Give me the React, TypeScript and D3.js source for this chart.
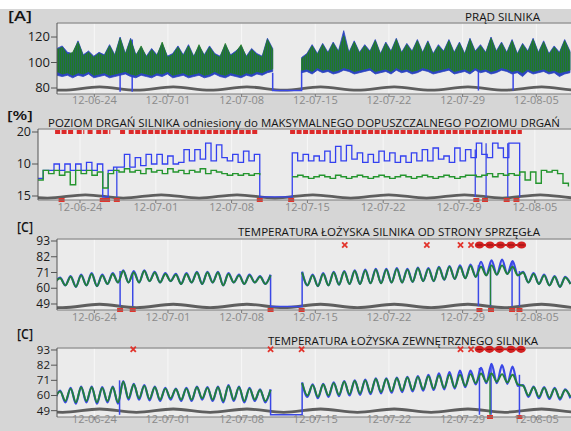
import React from "react";
import * as d3 from "d3";

// ---------- time helpers ----------
const BASE = Date.UTC(2012, 5, 24);
const DAY = 864e5;
const toDate = (d: number) => new Date(BASE + d * DAY);

// ---------- shared axis data ----------
const tickDays = [0, 7, 14, 21, 28, 35, 42]; // 12-06-24 ... 12-08-05
const waveDays = [-6.5, -3, 0.5, 4, 7.5, 11, 14.5, 18, 21.5, 25, 28.5, 32, 35.5, 39, 42.5, 46, 49.5];
const waveLevel = [1, -1, 1, -1, 1, -1, 1, -1, 1, -1, 1, -1, 1, -1, 1, -1, 1];

// ---------- panel 1: PRĄD SILNIKA [A] ----------
const curStep = 0.5;
const cur1Start = -3.55;
const curGreenHi1 = [110,112,106,108,116,105,108,104,107,105, 113,105,119,106,118,105,113,104,110,105, 116,104,106,112,105,113,104,114,105,112, 106,104,115,105,108,114,104,110,106,104, 118,110];
const curGreenLo1 = [93,91,92,90,92,91,93,90,91,92, 90,91,92,93,91,90,92,91,90,92, 91,93,90,91,92,90,91,92,90,91, 93,91,90,92,91,90,92,91,93,92, 94,95];
const curBlueHi1 = [111,113,108,107,117,106,109,105,108,106, 114,106,120,107,119,106,112,105,111,106, 115,105,107,113,106,114,105,113,106,113, 107,105,114,106,109,113,105,111,107,105, 119,111];
const curBlueLo1 = [90,89,90,88,90,89,91,88,89,90, 88,89,90,91,89,88,90,89,88,90, 89,91,88,89,90,88,89,90,88,89, 91,89,88,90,89,88,90,89,91,90, 92,93];
const cur2Start = 19.7;
const curGreenHi2 = [103,106,113,106,114,107,115,108,121,107, 116,107,113,108,117,106,115,108,118,107, 114,108,117,107,116,106,113,108,117,107, 115,106,118,108,113,107,119,108,115,107, 117,106,114,108,118,107,116,106,112,107, 117,108];
const curGreenLo2 = [94,95,93,96,94,95,93,94,96,95, 93,94,95,96,93,94,95,93,96,94, 95,93,94,96,95,93,94,95,96,93, 94,95,93,96,94,95,93,94,96,95, 93,94,92,95,93,94,95,93,94,92, 93,94];
const curBlueHi2 = [104,107,114,107,115,108,116,109,125,108, 117,108,114,109,118,107,116,109,119,108, 115,109,118,108,117,107,114,109,118,108, 116,107,119,109,114,108,120,109,116,108, 118,107,115,109,119,108,117,107,113,108, 118,109];
const curBlueLo2 = [92,93,91,94,92,93,91,92,94,93, 91,92,93,94,91,92,93,91,94,92, 93,91,92,94,93,91,92,93,94,91, 92,93,91,94,92,93,91,92,94,93, 91,92,89,93,91,92,93,91,92,89, 91,92];
const curBlueGap = [[16.95, 92], [16.95, 78], [19.7, 78], [19.7, 94]];
const curBlueDrops = [[2.45, 119, 77], [3.6, 118, 77], [36.5, 104, 78], [39.8, 104, 78]];

// ---------- panel 2: POZIOM DRGAŃ [%] ----------
const vibStep = 0.5;
const vibBlueStart = -3.9;
const vibBlue = [5.5,8,8,10,8,10,8,10,8,10.5, 8,10,-0.3,8,9,9,13,9,12,9.5, 13,10,13,10,12.5,10,10.5,14.5,11,14.5, 11.5,16.5,11,16,12,11,13,10.5,14,11, 13,-0.3,
  -0.3,-0.3,-0.3,-0.3,-0.3,
  13.5,11,13,11,12.5,11,14,10.5,15.5,11, 15.8,11.5,13.5,10.5,13,10.5,14,11,13.5,10.5, 12.5,10.5,13.5,11,14.5,11,15,11.5,12.5,10.5, 15,11,14.5,12,16.5,13,12,16.5,15,12, 16.5,16.5,-0.3];
const vibGreen1Start = -3.9;
const vibGreen1 = [5,8,7,8,6.5,7.5,3.5,8,7,8, 6.5,7.5,2.5,7,8,7.5,8.5,7.5,8,7, 8.5,7.5,8,7,8.5,7.5,8,7,8,7.5, 8.5,7,8,7.5,7,6.5,7,6.5,7,6.5, 7,6.5];
const vibGreen2Start = 19.6;
const vibGreen2 = [6,6.5,6,5.5,6,6.5,6,5.5,6.5,6, 5.5,6,6.5,6,5.5,6,6.5,6,5.5,6, 6.5,6,5.5,6,6.5,6,5.5,6,6.5,6, 5.5,6,6.5,6.5,6,6.5,7,6,7,6.5, 7,6.5,7.5,5,7.5,4,8,7.5,8,7, 4,3];
const vibBlueDrops = [[3.4, 9, -0.3], [36.5, 14.5, -0.3], [37.5, 16.5, -0.3], [39.5, 16.5, -0.3]];
const vibAlarmLevel = 20;
const vibAlarmTop = [[-2.3, -0.6], [-0.3, 0.4], [0.7, 1.2], [1.5, 2.8], [3.7, 4.2], [4.5, 16.5], [19.4, 40.8]];
const vibAlarmBottom = [-1.7, 2.1, 2.5, 3.4, 16.6, 19.5, 36.6, 37.4, 39.4, 40.3];

// ---------- panel 3: TEMPERATURA ŁOŻYSKA OD STRONY SPRZĘGŁA [C] ----------
const tStep = 0.5;
const t1Start = -3.75;
const t2Start = 19.75;
const cplGreen1 = [64,67,62,68,61,69,62,70,61.5,69, 63,70,64,72,64,71,64,72,65,71, 64,70,65,69.5,63,70,64,71,63,71, 64,71,62,70,64,69,63,69,64,68, 63,69];
const cplBlue1 = [64,67.5,62,68.5,61,69.5,62,70.5,61.5,69.5, 63,70.5,64,72.5,64,72,64,72.5,65,71.5, 64,70.5,65,70,63,70.5,64,71.5,63,71.5, 64,71.5,62,70.5,64,69.5,63,69.5,64,68.5, 63,69.5];
const cplGreen2 = [71,62,69,61.5,70,62,71,62.5,71.5,63, 72,63,72.5,63.5,73,63.5,73,64,73.5,64, 73,64.5,74,65,73.5,65,74.5,66,75,66.5, 75,67,75.5,68,75,69,76,69.5,76,70, 75,69,71,64,70,63,69,62,68,61, 67.5,63];
const cplBlue2 = [71.5,62,69.5,61.5,70.5,62,71.5,62.5,72,63, 72.5,63,73,63.5,73.5,63.5,73.5,64,74,64, 73.5,64.5,74.5,65,74,65,75,66,75.5,66.5, 76,67,76.5,68,78.5,69,79.5,69.5,80,70, 79,69,71.5,64,70.5,63,69.5,62,68.5,61, 68,63];
const cplBlueGap = [[16.75, 69], [16.75, 47.3], [19.75, 47.3], [19.75, 71.5]];
const cplBlueDrops = [[2.45, 72, 47.5], [3.65, 71, 47.5], [36.5, 76, 47.5], [37.65, 78, 47.5], [39.7, 79, 47.5], [40.4, 72, 47.5]];
const cplGreenDrops = [[37.65, 75, 48]];
const cplAlarmLevel = 90.2;
const cplAlarmSingles = [23.8, 31.6, 34.8, 35.8];
const cplAlarmBlobs = [36.6, 37.6, 38.6, 39.6, 40.6];
const cplAlarmBottom = [2.45, 3.65, 16.75, 19.7, 36.6, 37.7, 39.7, 40.4];

// ---------- panel 4: TEMPERATURA ŁOŻYSKA ZEWNĘTRZNEGO [C] ----------
const extGreen1 = [58,63,56,65,55,66,56,66,55,65.5, 56,66,55,70,58,68,58,67,57.5,66, 57,65,58,64.5,57,65,57,66,58,65.5, 57,66,56,67,57,66,56,65,57,64, 56,64];
const extBlue1 = [57,63.5,55,65.5,54,66.5,55,66.5,54,66, 55,66.5,54,70.5,57,68.5,57,67.5,56.5,66.5, 56,65.5,57,65,56,65.5,56,66.5,57,66, 56,66.5,55,67.5,56,66.5,55,65.5,56,64.5, 55,64.5];
const extGreen2 = [69,60,67.5,59,68,60,69,60.5,70,61, 70.5,61.5,71,62,72,62.5,72,63,72.5,63.5, 73,64,73.5,64.5,74,65,74.5,65.5,75,66, 75,67,75.5,69,76,70,76,70,75.5,69.5, 75,68,67,60,66,59,65.5,58.5,65,58, 64,59];
const extBlue2 = [69.5,59,68,58,68.5,59,69.5,59.5,70.5,60, 71,60.5,71.5,61,72.5,61.5,72.5,62,73,62.5, 73.5,63,74,63.5,75,64,76,64.5,77,65, 78,66,78,68,80,69,83,69,82,68.5, 81,67,67.5,59,66.5,58,66,57.5,65.5,57, 64.5,58];
const extBlueGap = [[16.75, 64], [16.75, 46], [19.75, 46], [19.75, 69.5]];
const extBlueDrops = [[2.4, 71, 46], [36.6, 80, 46], [37.7, 83, 46], [40.4, 75, 46]];
const extGreenDrops = [[37.6, 76, 46]];
const extAlarmLevel = 93.5;
const extAlarmSingles = [3.7, 16.75, 19.7, 34.8, 35.8];
const extAlarmBlobs = [36.6, 37.55, 38.5, 39.6, 40.55];
const extAlarmBottom = [37.6, 40.4];

// ---------- helpers ----------
type P = { t: Date; v: number };
type B = { t: Date; hi: number; lo: number };
const seq = (start: number, step: number, vals: number[]): P[] =>
  vals.map((v, i) => ({ t: toDate(start + i * step), v }));
const bandSeq = (start: number, step: number, hi: number[], lo: number[]): B[] =>
  hi.map((h, i) => ({ t: toDate(start + i * step), hi: h, lo: lo[Math.min(i, lo.length - 1)] }));
const pts = (arr: number[][]): P[] => arr.map(([d, v]) => ({ t: toDate(d), v }));

const BLUE = "#3a48e6";
const RED = "#e2342c";
const TGREEN = "#22803a";
const fmt = d3.utcFormat("%y-%m-%d");
const FONT = "'Open Sans', 'DejaVu Sans', sans-serif";

type Layout = { id: string; left: number; right: number; top: number; bottom: number; d0: number; d1: number; yDom: number[];
  yTicks: number[]; yLabels: string[]; yFont: number; xLabelY: number; waveBase: number; waveAmp: number };

const L1: Layout = { id: "c1", left: 57, right: 571, top: 23, bottom: 94, d0: -3.546, d1: 45.3, yDom: [75.3, 131],
  yTicks: [80, 100, 120], yLabels: ["80", "100", "120"], yFont: 13, xLabelY: 104, waveBase: 79.6, waveAmp: 1.3 };
const L2: Layout = { id: "c2", left: 38, right: 571, top: 129, bottom: 200, d0: -3.878, d1: 45.34, yDom: [-1.25, 20.94],
  yTicks: [0, 10, 20], yLabels: ["15", "10", "20"], yFont: 12.5, xLabelY: 211, waveBase: -0.15, waveAmp: 0.5 };
const L3: Layout = { id: "c3", left: 57, right: 571, top: 239, bottom: 310, d0: -3.546, d1: 45.3, yDom: [44.8, 94.4],
  yTicks: [49, 60, 71, 82, 93], yLabels: ["49", "60", "71", "82", "93"], yFont: 12, xLabelY: 321, waveBase: 47.6, waveAmp: 1.2 };
const L4: Layout = { id: "c4", left: 57, right: 571, top: 348, bottom: 417, d0: -3.546, d1: 45.3, yDom: [44.4, 94.45],
  yTicks: [49, 60, 71, 82, 93], yLabels: ["49", "60", "71", "82", "93"], yFont: 11.5, xLabelY: 423, waveBase: 49, waveAmp: 1.2 };

function scales(L: Layout) {
  const x = d3.scaleUtc().domain([toDate(L.d0), toDate(L.d1)]).range([L.left, L.right]);
  const y = d3.scaleLinear().domain(L.yDom).range([L.bottom, L.top]);
  return { x, y };
}

function Frame({ L, children }: { L: Layout; children: React.ReactNode }) {
  const { x, y } = scales(L);
  const wave = d3.line<number>()
    .x((_, i) => x(toDate(waveDays[i])))
    .y((lv) => y(L.waveBase + lv * L.waveAmp))
    .curve(d3.curveMonotoneX)(waveLevel) || "";
  return (
    <g>
      <defs>
        <clipPath id={L.id}>
          <rect x={L.left} y={L.top - 6} width={L.right - L.left} height={L.bottom - L.top + 9} />
        </clipPath>
      </defs>
      <rect x={L.left} y={L.top} width={L.right - L.left} height={L.bottom - L.top} fill="#ebebeb" />
      {tickDays.map((d) => (
        <line key={d} x1={x(toDate(d))} x2={x(toDate(d))} y1={L.top} y2={L.bottom} stroke="#f7f7f7" strokeWidth={1} />
      ))}
      <line x1={L.left} x2={L.right} y1={L.top} y2={L.top} stroke="#9a9a9a" strokeWidth={1.5} />
      <g clipPath={`url(#${L.id})`}>
        <path d={wave} fill="none" stroke="#5e5e5e" strokeWidth={2.8} />
        {children}
      </g>
      <line x1={L.left} x2={L.right} y1={L.bottom} y2={L.bottom} stroke="#7a7a7a" strokeWidth={1} />
      <line x1={L.left} x2={L.left} y1={L.top} y2={L.bottom} stroke="#555" strokeWidth={1} />
      {L.yTicks.map((t, i) => (
        <g key={t}>
          <line x1={L.left - 6} x2={L.left} y1={y(t)} y2={y(t)} stroke="#555" />
          <text x={L.left - 7} y={y(t) + L.yFont * 0.34} textAnchor="end" fontSize={L.yFont} fill="#1a1a1a" fontFamily={FONT}>{L.yLabels[i]}</text>
        </g>
      ))}
      {tickDays.map((d) => (
        <g key={"x" + d}>
          <line x1={x(toDate(d))} x2={x(toDate(d))} y1={L.bottom} y2={L.bottom + 3} stroke="#777" />
          <text x={x(toDate(d))} y={L.xLabelY} textAnchor="middle" fontSize={11} fill="#8a8a8a" fontFamily={FONT}>{fmt(toDate(d))}</text>
        </g>
      ))}
    </g>
  );
}

function Cross({ cx, cy, s = 2.6 }: { cx: number; cy: number; s?: number }) {
  return (
    <g stroke={RED} strokeWidth={1.8}>
      <line x1={cx - s} x2={cx + s} y1={cy - s} y2={cy + s} />
      <line x1={cx - s} x2={cx + s} y1={cy + s} y2={cy - s} />
    </g>
  );
}

function Panel1() {
  const { x, y } = scales(L1);
  const area = d3.area<B>().x((p) => x(p.t)).y0((p) => y(p.lo)).y1((p) => y(p.hi));
  const line = d3.line<P>().x((p) => x(p.t)).y((p) => y(p.v));
  const g1 = bandSeq(cur1Start, curStep, curGreenHi1, curGreenLo1);
  const g2 = bandSeq(cur2Start, curStep, curGreenHi2, curGreenLo2);
  const b1 = bandSeq(cur1Start, curStep, curBlueHi1, curBlueLo1);
  const b2 = bandSeq(cur2Start, curStep, curBlueHi2, curBlueLo2);
  return (
    <Frame L={L1}>
      <defs>
        <pattern id="hatchG" width={2} height={4} patternUnits="userSpaceOnUse">
          <rect x={0} y={0} width={1.5} height={4} fill="#1f7a26" />
          <rect x={1.5} y={0} width={0.5} height={4} fill="#2a6a40" />
        </pattern>
      </defs>
      <path d={line(pts(curBlueGap)) || ""} fill="none" stroke={BLUE} strokeWidth={1.5} />
      {curBlueDrops.map(([d, a, b]) => (
        <line key={d} x1={x(toDate(d))} x2={x(toDate(d))} y1={y(a)} y2={y(b)} stroke={BLUE} strokeWidth={1.5} />
      ))}
      {[b1, b2].map((s, i) => (
        <path key={"b" + i} d={area(s) || ""} fill="#2b44c0" stroke="#2b44c0" strokeWidth={0.8} />
      ))}
      {[g1, g2].map((s, i) => (
        <path key={"g" + i} d={area(s) || ""} fill="url(#hatchG)" stroke="#237d26" strokeWidth={0.8} />
      ))}
    </Frame>
  );
}

function Panel2() {
  const { x, y } = scales(L2);
  const step = d3.line<P>().x((p) => x(p.t)).y((p) => y(p.v)).curve(d3.curveStepAfter);
  const blue = seq(vibBlueStart, vibStep, vibBlue);
  const g1 = seq(vibGreen1Start, vibStep, vibGreen1);
  const g2 = seq(vibGreen2Start, vibStep, vibGreen2);
  return (
    <Frame L={L2}>
      {vibBlueDrops.map(([d, a, b]) => (
        <line key={d} x1={x(toDate(d))} x2={x(toDate(d))} y1={y(a)} y2={y(b)} stroke={BLUE} strokeWidth={1.3} />
      ))}
      <path d={step(blue) || ""} fill="none" stroke="#3340f0" strokeWidth={1.3} />
      {[g1, g2].map((s, i) => (
        <path key={i} d={step(s) || ""} fill="none" stroke="#24952e" strokeWidth={1.4} />
      ))}
      {vibAlarmTop.map(([a, b]) => (
        <line key={a} x1={x(toDate(a))} x2={x(toDate(b))} y1={y(vibAlarmLevel)} y2={y(vibAlarmLevel)}
          stroke="#dd2a2a" strokeWidth={4} strokeDasharray="5 1.5" />
      ))}
      {vibAlarmBottom.map((d) => (
        <rect key={d} x={x(toDate(d)) - 3} y={L2.bottom - 2} width={6} height={4} fill={RED} />
      ))}
    </Frame>
  );
}

function TempPanel({ L, green1, blue1, green2, blue2, gap, blueDrops, greenDrops, level, singles, blobs, bottom }: any) {
  const { x, y } = scales(L);
  const line = d3.line<P>().x((p) => x(p.t)).y((p) => y(p.v));
  const curve = d3.line<P>().x((p) => x(p.t)).y((p) => y(p.v)).curve(d3.curveMonotoneX);
  const series = [
    { s: seq(t1Start, tStep, blue1), c: BLUE },
    { s: seq(t2Start, tStep, blue2), c: BLUE },
    { s: seq(t1Start, tStep, green1), c: TGREEN },
    { s: seq(t2Start, tStep, green2), c: TGREEN },
  ];
  const yl = y(level);
  return (
    <Frame L={L}>
      <path d={line(pts(gap)) || ""} fill="none" stroke={BLUE} strokeWidth={1.5} />
      {blueDrops.map(([d, a, b]: number[]) => (
        <line key={d} x1={x(toDate(d))} x2={x(toDate(d))} y1={y(a)} y2={y(b)} stroke={BLUE} strokeWidth={1.5} />
      ))}
      {series.map((o, i) => (
        <path key={i} d={curve(o.s) || ""} fill="none" stroke={o.c} strokeWidth={i < 2 ? 2.2 : 1.9} />
      ))}
      {greenDrops.map(([d, a, b]: number[]) => (
        <line key={"g" + d} x1={x(toDate(d))} x2={x(toDate(d))} y1={y(a)} y2={y(b)} stroke={TGREEN} strokeWidth={1.3} />
      ))}
      {singles.map((d: number) => <Cross key={d} cx={x(toDate(d))} cy={yl} />)}
      <line x1={x(toDate(blobs[0]))} x2={x(toDate(blobs[blobs.length - 1]))} y1={yl} y2={yl} stroke="#c81e1e" strokeWidth={2} />
      {blobs.map((d: number) => (
        <g key={"b" + d}>
          <ellipse cx={x(toDate(d))} cy={yl} rx={4.6} ry={3.6} fill="#d42222" />
          <line x1={x(toDate(d)) - 3} x2={x(toDate(d)) + 3} y1={yl} y2={yl} stroke="#8a1010" strokeWidth={1} />
        </g>
      ))}
      {bottom.map((d: number) => (
        <rect key={"r" + d} x={x(toDate(d)) - 3} y={L.bottom - 2} width={6} height={4} fill={RED} />
      ))}
    </Frame>
  );
}

function Label({ x, y, w, size, text, weight = 400 }: { x: number; y: number; w: number; size: number; text: string; weight?: number }) {
  return (
    <text x={x} y={y} fontSize={size} fontWeight={weight} fill="#141414" fontFamily={FONT}
      textLength={w} lengthAdjust="spacingAndGlyphs">{text}</text>
  );
}

export default function App() {
  return (
    <svg width={571} height={431} viewBox="0 0 571 431"
      style={{ position: "fixed", left: 0, top: 0, display: "block" }}>
      <rect x={0} y={0} width={571} height={431} fill="#ffffff" />
      <rect x={0} y={9} width={571} height={422} fill="#d6d6d6" />
      <Panel1 />
      <Panel2 />
      <TempPanel L={L3} green1={cplGreen1} blue1={cplBlue1} green2={cplGreen2} blue2={cplBlue2} gap={cplBlueGap}
        blueDrops={cplBlueDrops} greenDrops={cplGreenDrops} level={cplAlarmLevel} singles={cplAlarmSingles}
        blobs={cplAlarmBlobs} bottom={cplAlarmBottom} />
      <TempPanel L={L4} green1={extGreen1} blue1={extBlue1} green2={extGreen2} blue2={extBlue2} gap={extBlueGap}
        blueDrops={extBlueDrops} greenDrops={extGreenDrops} level={extAlarmLevel} singles={extAlarmSingles}
        blobs={extAlarmBlobs} bottom={extAlarmBottom} />
      <Label x={8} y={21} w={24} size={14} weight={600} text="[A]" />
      <Label x={465} y={20.5} w={75} size={11.5} text="PRĄD SILNIKA" />
      <Label x={7} y={120} w={26} size={13} weight={600} text="[%]" />
      <Label x={48} y={126.5} w={512} size={11} text="POZIOM DRGAŃ SILNIKA odniesiony do MAKSYMALNEGO DOPUSZCZALNEGO POZIOMU DRGAŃ" />
      <Label x={17} y={231.5} w={16} size={14} weight={600} text="[C]" />
      <Label x={238} y={235.5} w={302} size={11.5} text="TEMPERATURA ŁOŻYSKA SILNIKA OD STRONY SPRZĘGŁA" />
      <Label x={17} y={338.5} w={16} size={14} weight={600} text="[C]" />
      <Label x={268} y={344.5} w={270} size={11.5} text="TEMPERATURA ŁOŻYSKA ZEWNĘTRZNEGO SILNIKA" />
    </svg>
  );
}
